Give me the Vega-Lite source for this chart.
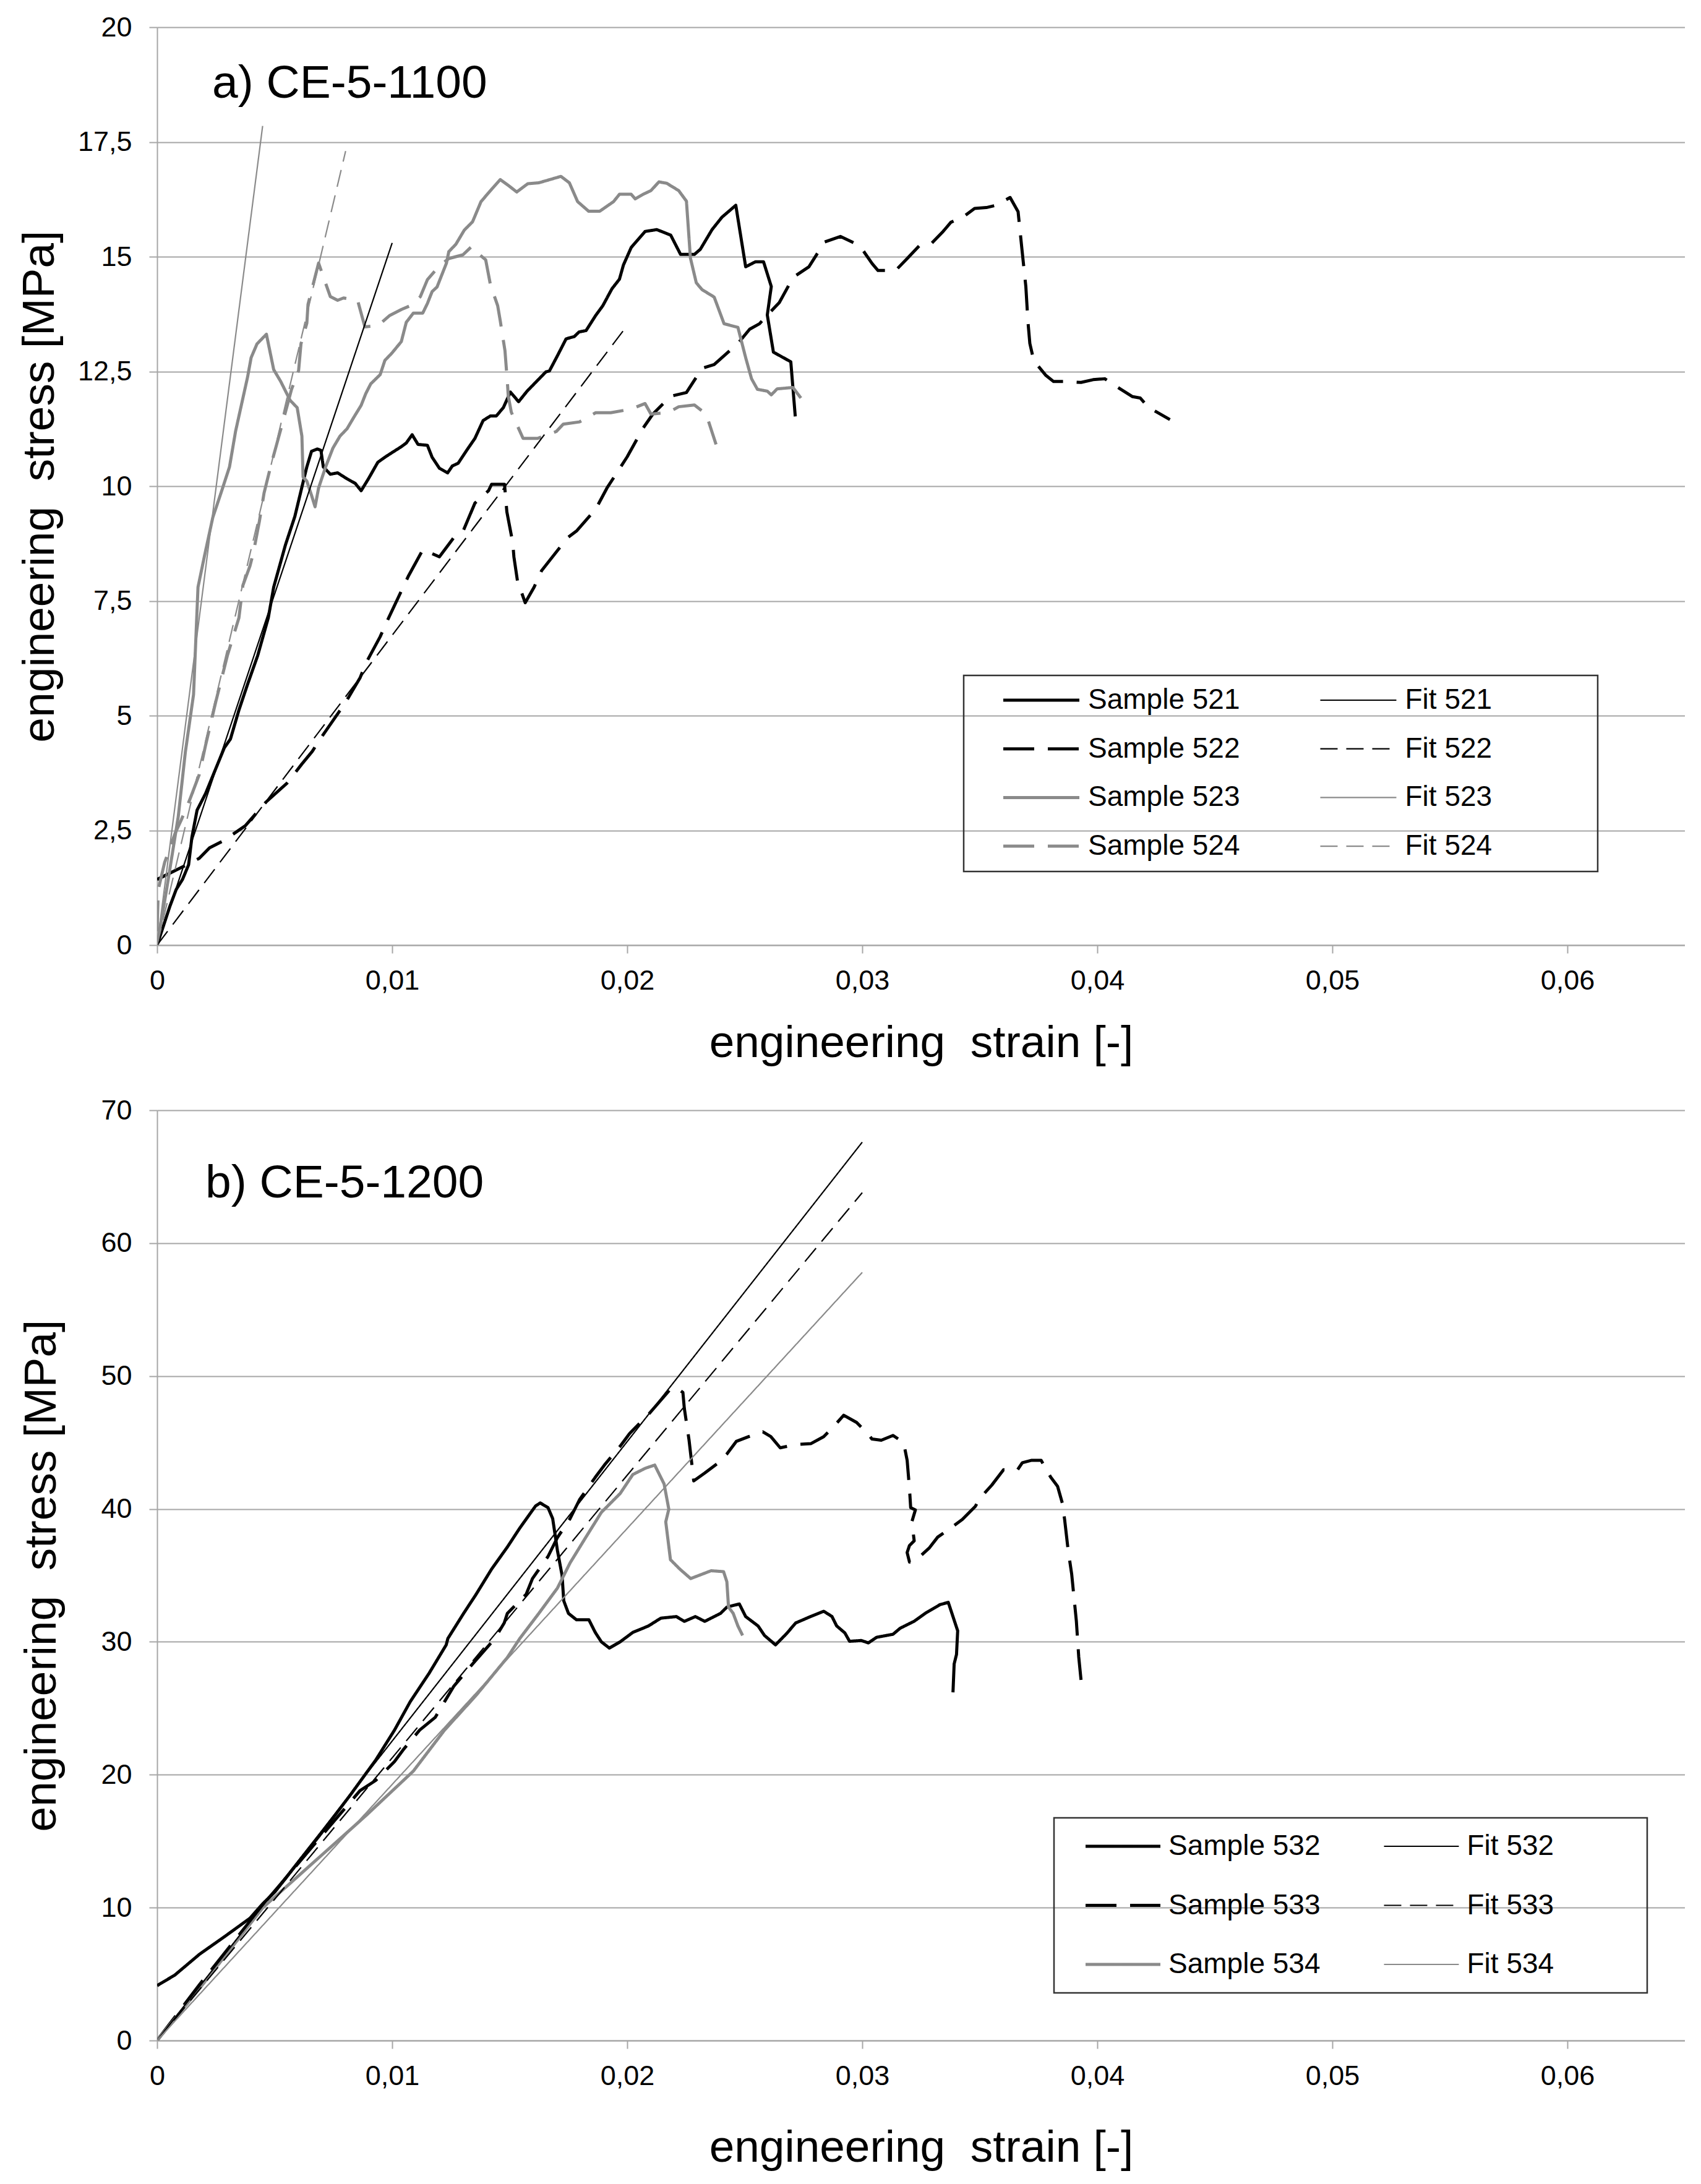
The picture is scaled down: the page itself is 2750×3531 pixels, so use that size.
{
  "$schema": "https://vega.github.io/schema/vega-lite/v6.json",
  "background": "white",
  "padding": {"left": 28, "top": 22, "right": 0, "bottom": 0},
  "spacing": 49,
  "columns": 1,
  "align": "none",
  "resolve": {
    "scale": {"color": "independent", "strokeDash": "independent", "strokeWidth": "independent", "x": "independent", "y": "independent"},
    "legend": {"color": "independent", "strokeDash": "independent", "strokeWidth": "independent"}
  },
  "datasets": {
    "a": [
      {"series": "Sample 521", "x": 0, "y": 0}, {"series": "Sample 521", "x": 0.00054, "y": 0.84}, {"series": "Sample 521", "x": 0.00081, "y": 1.21}, {"series": "Sample 521", "x": 0.00108, "y": 1.43}, {"series": "Sample 521", "x": 0.00134, "y": 1.75}, {"series": "Sample 521", "x": 0.00148, "y": 2.35}, {"series": "Sample 521", "x": 0.0017, "y": 2.94}, {"series": "Sample 521", "x": 0.00206, "y": 3.3}, {"series": "Sample 521", "x": 0.0025, "y": 3.85}, {"series": "Sample 521", "x": 0.00286, "y": 4.3}, {"series": "Sample 521", "x": 0.00312, "y": 4.49}, {"series": "Sample 521", "x": 0.00348, "y": 5.12}, {"series": "Sample 521", "x": 0.00384, "y": 5.67}, {"series": "Sample 521", "x": 0.00428, "y": 6.31}, {"series": "Sample 521", "x": 0.00473, "y": 7.13}, {"series": "Sample 521", "x": 0.00496, "y": 7.8}, {"series": "Sample 521", "x": 0.00546, "y": 8.72}, {"series": "Sample 521", "x": 0.00586, "y": 9.34}, {"series": "Sample 521", "x": 0.00617, "y": 10.0}, {"series": "Sample 521", "x": 0.00637, "y": 10.42}, {"series": "Sample 521", "x": 0.00657, "y": 10.76}, {"series": "Sample 521", "x": 0.00682, "y": 10.81}, {"series": "Sample 521", "x": 0.00697, "y": 10.78}, {"series": "Sample 521", "x": 0.00707, "y": 10.42}, {"series": "Sample 521", "x": 0.00737, "y": 10.26}, {"series": "Sample 521", "x": 0.00768, "y": 10.29}, {"series": "Sample 521", "x": 0.00808, "y": 10.16}, {"series": "Sample 521", "x": 0.00843, "y": 10.06}, {"series": "Sample 521", "x": 0.00868, "y": 9.9}, {"series": "Sample 521", "x": 0.00899, "y": 10.16}, {"series": "Sample 521", "x": 0.00939, "y": 10.52}, {"series": "Sample 521", "x": 0.00969, "y": 10.63}, {"series": "Sample 521", "x": 0.00999, "y": 10.73}, {"series": "Sample 521", "x": 0.01039, "y": 10.86}, {"series": "Sample 521", "x": 0.0106, "y": 10.94}, {"series": "Sample 521", "x": 0.01085, "y": 11.12}, {"series": "Sample 521", "x": 0.0111, "y": 10.91}, {"series": "Sample 521", "x": 0.0115, "y": 10.89}, {"series": "Sample 521", "x": 0.0117, "y": 10.63}, {"series": "Sample 521", "x": 0.01201, "y": 10.39}, {"series": "Sample 521", "x": 0.01236, "y": 10.29}, {"series": "Sample 521", "x": 0.01256, "y": 10.44}, {"series": "Sample 521", "x": 0.01281, "y": 10.5}, {"series": "Sample 521", "x": 0.01317, "y": 10.78}, {"series": "Sample 521", "x": 0.01352, "y": 11.04}, {"series": "Sample 521", "x": 0.01387, "y": 11.43}, {"series": "Sample 521", "x": 0.01418, "y": 11.53}, {"series": "Sample 521", "x": 0.01443, "y": 11.53}, {"series": "Sample 521", "x": 0.01473, "y": 11.71}, {"series": "Sample 521", "x": 0.01503, "y": 12.05}, {"series": "Sample 521", "x": 0.01538, "y": 11.84}, {"series": "Sample 521", "x": 0.01574, "y": 12.07}, {"series": "Sample 521", "x": 0.01614, "y": 12.28}, {"series": "Sample 521", "x": 0.01654, "y": 12.49}, {"series": "Sample 521", "x": 0.01669, "y": 12.51}, {"series": "Sample 521", "x": 0.01704, "y": 12.85}, {"series": "Sample 521", "x": 0.0174, "y": 13.21}, {"series": "Sample 521", "x": 0.01775, "y": 13.26}, {"series": "Sample 521", "x": 0.01795, "y": 13.36}, {"series": "Sample 521", "x": 0.01825, "y": 13.39}, {"series": "Sample 521", "x": 0.01866, "y": 13.72}, {"series": "Sample 521", "x": 0.01896, "y": 13.93}, {"series": "Sample 521", "x": 0.01935, "y": 14.3}, {"series": "Sample 521", "x": 0.01967, "y": 14.51}, {"series": "Sample 521", "x": 0.01984, "y": 14.82}, {"series": "Sample 521", "x": 0.02017, "y": 15.2}, {"series": "Sample 521", "x": 0.02076, "y": 15.55}, {"series": "Sample 521", "x": 0.02126, "y": 15.59}, {"series": "Sample 521", "x": 0.02185, "y": 15.47}, {"series": "Sample 521", "x": 0.02227, "y": 15.05}, {"series": "Sample 521", "x": 0.02286, "y": 15.05}, {"series": "Sample 521", "x": 0.02311, "y": 15.16}, {"series": "Sample 521", "x": 0.02361, "y": 15.59}, {"series": "Sample 521", "x": 0.02403, "y": 15.86}, {"series": "Sample 521", "x": 0.02462, "y": 16.12}, {"series": "Sample 521", "x": 0.02504, "y": 14.78}, {"series": "Sample 521", "x": 0.02546, "y": 14.89}, {"series": "Sample 521", "x": 0.0258, "y": 14.89}, {"series": "Sample 521", "x": 0.02613, "y": 14.35}, {"series": "Sample 521", "x": 0.02596, "y": 13.73}, {"series": "Sample 521", "x": 0.02622, "y": 12.92}, {"series": "Sample 521", "x": 0.02696, "y": 12.71}, {"series": "Sample 521", "x": 0.02715, "y": 11.52},
      {"series": "Sample 522", "x": 0, "y": 1.43}, {"series": "Sample 522", "x": 0.00099, "y": 1.68}, {"series": "Sample 522", "x": 0.00179, "y": 1.89}, {"series": "Sample 522", "x": 0.00223, "y": 2.12}, {"series": "Sample 522", "x": 0.00277, "y": 2.26}, {"series": "Sample 522", "x": 0.0033, "y": 2.44}, {"series": "Sample 522", "x": 0.00375, "y": 2.6}, {"series": "Sample 522", "x": 0.00464, "y": 3.12}, {"series": "Sample 522", "x": 0.00553, "y": 3.53}, {"series": "Sample 522", "x": 0.00615, "y": 3.94}, {"series": "Sample 522", "x": 0.0066, "y": 4.22}, {"series": "Sample 522", "x": 0.00695, "y": 4.5}, {"series": "Sample 522", "x": 0.00775, "y": 5.09}, {"series": "Sample 522", "x": 0.00802, "y": 5.29}, {"series": "Sample 522", "x": 0.00864, "y": 5.83}, {"series": "Sample 522", "x": 0.00891, "y": 6.17}, {"series": "Sample 522", "x": 0.00949, "y": 6.72}, {"series": "Sample 522", "x": 0.00985, "y": 7.13}, {"series": "Sample 522", "x": 0.0107, "y": 8.05}, {"series": "Sample 522", "x": 0.01131, "y": 8.62}, {"series": "Sample 522", "x": 0.01201, "y": 8.46}, {"series": "Sample 522", "x": 0.01261, "y": 8.87}, {"series": "Sample 522", "x": 0.01302, "y": 9.02}, {"series": "Sample 522", "x": 0.01352, "y": 9.63}, {"series": "Sample 522", "x": 0.0141, "y": 9.9}, {"series": "Sample 522", "x": 0.01423, "y": 10.04}, {"series": "Sample 522", "x": 0.01478, "y": 10.04}, {"series": "Sample 522", "x": 0.01488, "y": 9.44}, {"series": "Sample 522", "x": 0.01513, "y": 8.77}, {"series": "Sample 522", "x": 0.01518, "y": 8.46}, {"series": "Sample 522", "x": 0.01533, "y": 7.94}, {"series": "Sample 522", "x": 0.01566, "y": 7.46}, {"series": "Sample 522", "x": 0.01604, "y": 7.8}, {"series": "Sample 522", "x": 0.01636, "y": 8.16}, {"series": "Sample 522", "x": 0.01745, "y": 8.87}, {"series": "Sample 522", "x": 0.01786, "y": 9.03}, {"series": "Sample 522", "x": 0.01866, "y": 9.5}, {"series": "Sample 522", "x": 0.01914, "y": 9.96}, {"series": "Sample 522", "x": 0.02, "y": 10.64}, {"series": "Sample 522", "x": 0.02067, "y": 11.26}, {"series": "Sample 522", "x": 0.02109, "y": 11.57}, {"series": "Sample 522", "x": 0.02185, "y": 11.96}, {"series": "Sample 522", "x": 0.02252, "y": 12.04}, {"series": "Sample 522", "x": 0.02319, "y": 12.57}, {"series": "Sample 522", "x": 0.0237, "y": 12.65}, {"series": "Sample 522", "x": 0.02471, "y": 13.11}, {"series": "Sample 522", "x": 0.02521, "y": 13.42}, {"series": "Sample 522", "x": 0.02563, "y": 13.54}, {"series": "Sample 522", "x": 0.02597, "y": 13.73}, {"series": "Sample 522", "x": 0.02647, "y": 14.0}, {"series": "Sample 522", "x": 0.02706, "y": 14.55}, {"series": "Sample 522", "x": 0.02773, "y": 14.78}, {"series": "Sample 522", "x": 0.0284, "y": 15.32}, {"series": "Sample 522", "x": 0.02907, "y": 15.44}, {"series": "Sample 522", "x": 0.02974, "y": 15.28}, {"series": "Sample 522", "x": 0.03, "y": 15.16}, {"series": "Sample 522", "x": 0.03042, "y": 14.85}, {"series": "Sample 522", "x": 0.03067, "y": 14.7}, {"series": "Sample 522", "x": 0.03142, "y": 14.7}, {"series": "Sample 522", "x": 0.03193, "y": 14.97}, {"series": "Sample 522", "x": 0.03243, "y": 15.24}, {"series": "Sample 522", "x": 0.03293, "y": 15.28}, {"series": "Sample 522", "x": 0.03344, "y": 15.55}, {"series": "Sample 522", "x": 0.03377, "y": 15.75}, {"series": "Sample 522", "x": 0.03428, "y": 15.86}, {"series": "Sample 522", "x": 0.03478, "y": 16.05}, {"series": "Sample 522", "x": 0.03528, "y": 16.07}, {"series": "Sample 522", "x": 0.0357, "y": 16.12}, {"series": "Sample 522", "x": 0.03629, "y": 16.29}, {"series": "Sample 522", "x": 0.03663, "y": 15.98}, {"series": "Sample 522", "x": 0.0368, "y": 15.13}, {"series": "Sample 522", "x": 0.03696, "y": 14.35}, {"series": "Sample 522", "x": 0.03705, "y": 13.58}, {"series": "Sample 522", "x": 0.03713, "y": 13.11}, {"series": "Sample 522", "x": 0.0373, "y": 12.73}, {"series": "Sample 522", "x": 0.0378, "y": 12.42}, {"series": "Sample 522", "x": 0.03814, "y": 12.28}, {"series": "Sample 522", "x": 0.03864, "y": 12.28}, {"series": "Sample 522", "x": 0.03931, "y": 12.26}, {"series": "Sample 522", "x": 0.03982, "y": 12.32}, {"series": "Sample 522", "x": 0.04032, "y": 12.34}, {"series": "Sample 522", "x": 0.041, "y": 12.11}, {"series": "Sample 522", "x": 0.0415, "y": 11.95}, {"series": "Sample 522", "x": 0.04183, "y": 11.92}, {"series": "Sample 522", "x": 0.04217, "y": 11.72}, {"series": "Sample 522", "x": 0.04309, "y": 11.45},
      {"series": "Sample 523", "x": 0, "y": 0}, {"series": "Sample 523", "x": 0.0004, "y": 1.2}, {"series": "Sample 523", "x": 0.0009, "y": 2.8}, {"series": "Sample 523", "x": 0.0012, "y": 4.2}, {"series": "Sample 523", "x": 0.00155, "y": 5.46}, {"series": "Sample 523", "x": 0.00174, "y": 7.8}, {"series": "Sample 523", "x": 0.00202, "y": 8.49}, {"series": "Sample 523", "x": 0.00237, "y": 9.32}, {"series": "Sample 523", "x": 0.00273, "y": 9.87}, {"series": "Sample 523", "x": 0.00308, "y": 10.42}, {"series": "Sample 523", "x": 0.00334, "y": 11.2}, {"series": "Sample 523", "x": 0.00385, "y": 12.38}, {"series": "Sample 523", "x": 0.004, "y": 12.8}, {"series": "Sample 523", "x": 0.00425, "y": 13.1}, {"series": "Sample 523", "x": 0.00465, "y": 13.31}, {"series": "Sample 523", "x": 0.00496, "y": 12.54}, {"series": "Sample 523", "x": 0.00526, "y": 12.28}, {"series": "Sample 523", "x": 0.00566, "y": 11.87}, {"series": "Sample 523", "x": 0.00596, "y": 11.71}, {"series": "Sample 523", "x": 0.00616, "y": 11.09}, {"series": "Sample 523", "x": 0.00621, "y": 10.2}, {"series": "Sample 523", "x": 0.00637, "y": 10.11}, {"series": "Sample 523", "x": 0.00657, "y": 9.8}, {"series": "Sample 523", "x": 0.00672, "y": 9.55}, {"series": "Sample 523", "x": 0.00687, "y": 9.96}, {"series": "Sample 523", "x": 0.00717, "y": 10.42}, {"series": "Sample 523", "x": 0.00748, "y": 10.83}, {"series": "Sample 523", "x": 0.00778, "y": 11.09}, {"series": "Sample 523", "x": 0.00808, "y": 11.25}, {"series": "Sample 523", "x": 0.00838, "y": 11.51}, {"series": "Sample 523", "x": 0.00868, "y": 11.76}, {"series": "Sample 523", "x": 0.00888, "y": 12.02}, {"series": "Sample 523", "x": 0.00909, "y": 12.23}, {"series": "Sample 523", "x": 0.00949, "y": 12.43}, {"series": "Sample 523", "x": 0.00969, "y": 12.74}, {"series": "Sample 523", "x": 0.00999, "y": 12.9}, {"series": "Sample 523", "x": 0.01039, "y": 13.15}, {"series": "Sample 523", "x": 0.0106, "y": 13.57}, {"series": "Sample 523", "x": 0.0109, "y": 13.77}, {"series": "Sample 523", "x": 0.0113, "y": 13.77}, {"series": "Sample 523", "x": 0.0115, "y": 13.98}, {"series": "Sample 523", "x": 0.0117, "y": 14.24}, {"series": "Sample 523", "x": 0.01191, "y": 14.34}, {"series": "Sample 523", "x": 0.01211, "y": 14.6}, {"series": "Sample 523", "x": 0.01231, "y": 14.86}, {"series": "Sample 523", "x": 0.01241, "y": 15.11}, {"series": "Sample 523", "x": 0.01271, "y": 15.27}, {"series": "Sample 523", "x": 0.01307, "y": 15.58}, {"series": "Sample 523", "x": 0.01342, "y": 15.76}, {"series": "Sample 523", "x": 0.01378, "y": 16.2}, {"series": "Sample 523", "x": 0.01425, "y": 16.48}, {"series": "Sample 523", "x": 0.0146, "y": 16.68}, {"series": "Sample 523", "x": 0.01495, "y": 16.55}, {"series": "Sample 523", "x": 0.0153, "y": 16.41}, {"series": "Sample 523", "x": 0.01577, "y": 16.59}, {"series": "Sample 523", "x": 0.01624, "y": 16.61}, {"series": "Sample 523", "x": 0.01671, "y": 16.68}, {"series": "Sample 523", "x": 0.01718, "y": 16.75}, {"series": "Sample 523", "x": 0.01754, "y": 16.61}, {"series": "Sample 523", "x": 0.01789, "y": 16.2}, {"series": "Sample 523", "x": 0.01836, "y": 15.99}, {"series": "Sample 523", "x": 0.01883, "y": 15.99}, {"series": "Sample 523", "x": 0.01942, "y": 16.2}, {"series": "Sample 523", "x": 0.01967, "y": 16.36}, {"series": "Sample 523", "x": 0.02017, "y": 16.36}, {"series": "Sample 523", "x": 0.02034, "y": 16.26}, {"series": "Sample 523", "x": 0.02068, "y": 16.36}, {"series": "Sample 523", "x": 0.02101, "y": 16.44}, {"series": "Sample 523", "x": 0.02135, "y": 16.63}, {"series": "Sample 523", "x": 0.02168, "y": 16.6}, {"series": "Sample 523", "x": 0.02219, "y": 16.44}, {"series": "Sample 523", "x": 0.02252, "y": 16.21}, {"series": "Sample 523", "x": 0.02269, "y": 14.97}, {"series": "Sample 523", "x": 0.02294, "y": 14.43}, {"series": "Sample 523", "x": 0.02319, "y": 14.28}, {"series": "Sample 523", "x": 0.0237, "y": 14.12}, {"series": "Sample 523", "x": 0.02412, "y": 13.54}, {"series": "Sample 523", "x": 0.02471, "y": 13.46}, {"series": "Sample 523", "x": 0.02504, "y": 12.8}, {"series": "Sample 523", "x": 0.02529, "y": 12.34}, {"series": "Sample 523", "x": 0.02554, "y": 12.11}, {"series": "Sample 523", "x": 0.02596, "y": 12.07}, {"series": "Sample 523", "x": 0.02613, "y": 11.99}, {"series": "Sample 523", "x": 0.02638, "y": 12.12}, {"series": "Sample 523", "x": 0.02705, "y": 12.15}, {"series": "Sample 523", "x": 0.02739, "y": 11.92},
      {"series": "Sample 524", "x": 0, "y": 0.3}, {"series": "Sample 524", "x": 0.00005, "y": 1.21}, {"series": "Sample 524", "x": 0.00032, "y": 1.8}, {"series": "Sample 524", "x": 0.00077, "y": 2.44}, {"series": "Sample 524", "x": 0.00103, "y": 2.73}, {"series": "Sample 524", "x": 0.00139, "y": 3.17}, {"series": "Sample 524", "x": 0.00179, "y": 3.71}, {"series": "Sample 524", "x": 0.00206, "y": 4.35}, {"series": "Sample 524", "x": 0.0025, "y": 5.31}, {"series": "Sample 524", "x": 0.00299, "y": 6.31}, {"series": "Sample 524", "x": 0.00348, "y": 7.13}, {"series": "Sample 524", "x": 0.00365, "y": 7.84}, {"series": "Sample 524", "x": 0.00395, "y": 8.26}, {"series": "Sample 524", "x": 0.0041, "y": 8.56}, {"series": "Sample 524", "x": 0.00435, "y": 9.23}, {"series": "Sample 524", "x": 0.00455, "y": 9.85}, {"series": "Sample 524", "x": 0.00485, "y": 10.47}, {"series": "Sample 524", "x": 0.00506, "y": 10.86}, {"series": "Sample 524", "x": 0.0054, "y": 11.5}, {"series": "Sample 524", "x": 0.00572, "y": 12.11}, {"series": "Sample 524", "x": 0.00602, "y": 12.52}, {"series": "Sample 524", "x": 0.00612, "y": 13.1}, {"series": "Sample 524", "x": 0.00637, "y": 13.55}, {"series": "Sample 524", "x": 0.00642, "y": 13.96}, {"series": "Sample 524", "x": 0.00687, "y": 14.86}, {"series": "Sample 524", "x": 0.00717, "y": 14.42}, {"series": "Sample 524", "x": 0.00737, "y": 14.13}, {"series": "Sample 524", "x": 0.00768, "y": 14.05}, {"series": "Sample 524", "x": 0.00793, "y": 14.1}, {"series": "Sample 524", "x": 0.00853, "y": 14.05}, {"series": "Sample 524", "x": 0.00884, "y": 13.47}, {"series": "Sample 524", "x": 0.0094, "y": 13.5}, {"series": "Sample 524", "x": 0.0099, "y": 13.72}, {"series": "Sample 524", "x": 0.0104, "y": 13.85}, {"series": "Sample 524", "x": 0.01085, "y": 13.95}, {"series": "Sample 524", "x": 0.0112, "y": 14.13}, {"series": "Sample 524", "x": 0.0115, "y": 14.5}, {"series": "Sample 524", "x": 0.01197, "y": 14.78}, {"series": "Sample 524", "x": 0.01241, "y": 14.96}, {"series": "Sample 524", "x": 0.01301, "y": 15.04}, {"series": "Sample 524", "x": 0.01338, "y": 15.22}, {"series": "Sample 524", "x": 0.01368, "y": 15.06}, {"series": "Sample 524", "x": 0.01398, "y": 14.93}, {"series": "Sample 524", "x": 0.01418, "y": 14.39}, {"series": "Sample 524", "x": 0.01449, "y": 13.93}, {"series": "Sample 524", "x": 0.0146, "y": 13.6}, {"series": "Sample 524", "x": 0.0148, "y": 12.95}, {"series": "Sample 524", "x": 0.0149, "y": 12.28}, {"series": "Sample 524", "x": 0.01494, "y": 11.96}, {"series": "Sample 524", "x": 0.01507, "y": 11.61}, {"series": "Sample 524", "x": 0.01557, "y": 11.04}, {"series": "Sample 524", "x": 0.01618, "y": 11.04}, {"series": "Sample 524", "x": 0.01698, "y": 11.19}, {"series": "Sample 524", "x": 0.01728, "y": 11.35}, {"series": "Sample 524", "x": 0.01797, "y": 11.4}, {"series": "Sample 524", "x": 0.01866, "y": 11.6}, {"series": "Sample 524", "x": 0.0193, "y": 11.6}, {"series": "Sample 524", "x": 0.02017, "y": 11.68}, {"series": "Sample 524", "x": 0.02076, "y": 11.8}, {"series": "Sample 524", "x": 0.02101, "y": 11.57}, {"series": "Sample 524", "x": 0.02177, "y": 11.61}, {"series": "Sample 524", "x": 0.02219, "y": 11.73}, {"series": "Sample 524", "x": 0.02286, "y": 11.77}, {"series": "Sample 524", "x": 0.02336, "y": 11.57}, {"series": "Sample 524", "x": 0.02378, "y": 10.91},
      {"series": "Fit 521", "x": 0, "y": 0}, {"series": "Fit 521", "x": 0.01, "y": 15.3},
      {"series": "Fit 522", "x": 0, "y": 0}, {"series": "Fit 522", "x": 0.02, "y": 13.5},
      {"series": "Fit 523", "x": 0, "y": 0}, {"series": "Fit 523", "x": 0.00449, "y": 17.85},
      {"series": "Fit 524", "x": 0, "y": 0}, {"series": "Fit 524", "x": 0.00802, "y": 17.3}
    ],
    "b": [
      {"series": "Sample 532", "x": 0, "y": 4.13}, {"series": "Sample 532", "x": 0.00075, "y": 4.92}, {"series": "Sample 532", "x": 0.00181, "y": 6.5}, {"series": "Sample 532", "x": 0.00288, "y": 7.83}, {"series": "Sample 532", "x": 0.00395, "y": 9.2}, {"series": "Sample 532", "x": 0.0045, "y": 10.3}, {"series": "Sample 532", "x": 0.00502, "y": 11.2}, {"series": "Sample 532", "x": 0.00609, "y": 13.6}, {"series": "Sample 532", "x": 0.0069, "y": 15.4}, {"series": "Sample 532", "x": 0.00823, "y": 18.5}, {"series": "Sample 532", "x": 0.0093, "y": 21.1}, {"series": "Sample 532", "x": 0.0101, "y": 23.36}, {"series": "Sample 532", "x": 0.01077, "y": 25.5}, {"series": "Sample 532", "x": 0.01157, "y": 27.63}, {"series": "Sample 532", "x": 0.0123, "y": 29.77}, {"series": "Sample 532", "x": 0.01237, "y": 30.25}, {"series": "Sample 532", "x": 0.01304, "y": 32.14}, {"series": "Sample 532", "x": 0.01357, "y": 33.57}, {"series": "Sample 532", "x": 0.01423, "y": 35.47}, {"series": "Sample 532", "x": 0.0149, "y": 37.13}, {"series": "Sample 532", "x": 0.01543, "y": 38.56}, {"series": "Sample 532", "x": 0.0161, "y": 40.22}, {"series": "Sample 532", "x": 0.0163, "y": 40.45}, {"series": "Sample 532", "x": 0.01663, "y": 40.1}, {"series": "Sample 532", "x": 0.01683, "y": 39.27}, {"series": "Sample 532", "x": 0.01703, "y": 36.89}, {"series": "Sample 532", "x": 0.01723, "y": 34.99}, {"series": "Sample 532", "x": 0.0173, "y": 33.09}, {"series": "Sample 532", "x": 0.0175, "y": 32.14}, {"series": "Sample 532", "x": 0.01784, "y": 31.66}, {"series": "Sample 532", "x": 0.01837, "y": 31.66}, {"series": "Sample 532", "x": 0.01864, "y": 30.71}, {"series": "Sample 532", "x": 0.0189, "y": 30.0}, {"series": "Sample 532", "x": 0.01924, "y": 29.53}, {"series": "Sample 532", "x": 0.0197, "y": 30.0}, {"series": "Sample 532", "x": 0.02024, "y": 30.71}, {"series": "Sample 532", "x": 0.0209, "y": 31.19}, {"series": "Sample 532", "x": 0.02143, "y": 31.78}, {"series": "Sample 532", "x": 0.02209, "y": 31.9}, {"series": "Sample 532", "x": 0.02243, "y": 31.54}, {"series": "Sample 532", "x": 0.0229, "y": 31.9}, {"series": "Sample 532", "x": 0.0233, "y": 31.54}, {"series": "Sample 532", "x": 0.02397, "y": 32.14}, {"series": "Sample 532", "x": 0.02424, "y": 32.61}, {"series": "Sample 532", "x": 0.02477, "y": 32.85}, {"series": "Sample 532", "x": 0.02504, "y": 31.9}, {"series": "Sample 532", "x": 0.02557, "y": 31.19}, {"series": "Sample 532", "x": 0.02584, "y": 30.48}, {"series": "Sample 532", "x": 0.02631, "y": 29.77}, {"series": "Sample 532", "x": 0.02677, "y": 30.6}, {"series": "Sample 532", "x": 0.02717, "y": 31.42}, {"series": "Sample 532", "x": 0.02781, "y": 31.91}, {"series": "Sample 532", "x": 0.02836, "y": 32.3}, {"series": "Sample 532", "x": 0.02871, "y": 31.91}, {"series": "Sample 532", "x": 0.02891, "y": 31.2}, {"series": "Sample 532", "x": 0.02926, "y": 30.67}, {"series": "Sample 532", "x": 0.02946, "y": 30.04}, {"series": "Sample 532", "x": 0.02996, "y": 30.1}, {"series": "Sample 532", "x": 0.03026, "y": 29.92}, {"series": "Sample 532", "x": 0.03061, "y": 30.34}, {"series": "Sample 532", "x": 0.03131, "y": 30.57}, {"series": "Sample 532", "x": 0.03161, "y": 31.02}, {"series": "Sample 532", "x": 0.03221, "y": 31.55}, {"series": "Sample 532", "x": 0.03271, "y": 32.18}, {"series": "Sample 532", "x": 0.03331, "y": 32.8}, {"series": "Sample 532", "x": 0.03366, "y": 32.97}, {"series": "Sample 532", "x": 0.03406, "y": 30.83}, {"series": "Sample 532", "x": 0.03401, "y": 29.05}, {"series": "Sample 532", "x": 0.03391, "y": 28.34}, {"series": "Sample 532", "x": 0.03386, "y": 26.2},
      {"series": "Sample 533", "x": 0, "y": 0}, {"series": "Sample 533", "x": 0.0018, "y": 4.2}, {"series": "Sample 533", "x": 0.0045, "y": 10.2}, {"series": "Sample 533", "x": 0.0069, "y": 15.2}, {"series": "Sample 533", "x": 0.00863, "y": 18.8}, {"series": "Sample 533", "x": 0.0093, "y": 19.57}, {"series": "Sample 533", "x": 0.0101, "y": 20.99}, {"series": "Sample 533", "x": 0.0105, "y": 21.94}, {"series": "Sample 533", "x": 0.01117, "y": 23.36}, {"series": "Sample 533", "x": 0.01183, "y": 24.31}, {"series": "Sample 533", "x": 0.01223, "y": 25.5}, {"series": "Sample 533", "x": 0.01263, "y": 26.68}, {"series": "Sample 533", "x": 0.01343, "y": 28.35}, {"series": "Sample 533", "x": 0.01437, "y": 30.25}, {"series": "Sample 533", "x": 0.01477, "y": 31.43}, {"series": "Sample 533", "x": 0.0149, "y": 32.14}, {"series": "Sample 533", "x": 0.0157, "y": 33.57}, {"series": "Sample 533", "x": 0.01597, "y": 34.76}, {"series": "Sample 533", "x": 0.01663, "y": 36.42}, {"series": "Sample 533", "x": 0.01703, "y": 37.84}, {"series": "Sample 533", "x": 0.01757, "y": 39.27}, {"series": "Sample 533", "x": 0.01797, "y": 40.69}, {"series": "Sample 533", "x": 0.01863, "y": 42.35}, {"series": "Sample 533", "x": 0.01903, "y": 43.3}, {"series": "Sample 533", "x": 0.0197, "y": 44.72}, {"series": "Sample 533", "x": 0.0201, "y": 45.67}, {"series": "Sample 533", "x": 0.0209, "y": 47.1}, {"series": "Sample 533", "x": 0.02183, "y": 49.0}, {"series": "Sample 533", "x": 0.0221, "y": 49.12}, {"series": "Sample 533", "x": 0.02237, "y": 48.76}, {"series": "Sample 533", "x": 0.02243, "y": 47.57}, {"series": "Sample 533", "x": 0.02263, "y": 45.2}, {"series": "Sample 533", "x": 0.02277, "y": 43.06}, {"series": "Sample 533", "x": 0.02283, "y": 42.11}, {"series": "Sample 533", "x": 0.0233, "y": 42.7}, {"series": "Sample 533", "x": 0.02384, "y": 43.42}, {"series": "Sample 533", "x": 0.02424, "y": 44.13}, {"series": "Sample 533", "x": 0.02464, "y": 45.08}, {"series": "Sample 533", "x": 0.02517, "y": 45.44}, {"series": "Sample 533", "x": 0.02577, "y": 45.8}, {"series": "Sample 533", "x": 0.02611, "y": 45.44}, {"series": "Sample 533", "x": 0.02651, "y": 44.6}, {"series": "Sample 533", "x": 0.02717, "y": 44.84}, {"series": "Sample 533", "x": 0.02781, "y": 44.91}, {"series": "Sample 533", "x": 0.02836, "y": 45.44}, {"series": "Sample 533", "x": 0.02876, "y": 46.15}, {"series": "Sample 533", "x": 0.02921, "y": 47.05}, {"series": "Sample 533", "x": 0.02976, "y": 46.51}, {"series": "Sample 533", "x": 0.03026, "y": 45.62}, {"series": "Sample 533", "x": 0.03041, "y": 45.26}, {"series": "Sample 533", "x": 0.03081, "y": 45.17}, {"series": "Sample 533", "x": 0.03131, "y": 45.53}, {"series": "Sample 533", "x": 0.03176, "y": 44.99}, {"series": "Sample 533", "x": 0.03191, "y": 43.66}, {"series": "Sample 533", "x": 0.03196, "y": 42.59}, {"series": "Sample 533", "x": 0.03201, "y": 41.52}, {"series": "Sample 533", "x": 0.03206, "y": 40.1}, {"series": "Sample 533", "x": 0.03226, "y": 39.92}, {"series": "Sample 533", "x": 0.03211, "y": 39.03}, {"series": "Sample 533", "x": 0.03221, "y": 37.6}, {"series": "Sample 533", "x": 0.03201, "y": 37.25}, {"series": "Sample 533", "x": 0.03191, "y": 36.72}, {"series": "Sample 533", "x": 0.03201, "y": 36.0}, {"series": "Sample 533", "x": 0.03236, "y": 36.27}, {"series": "Sample 533", "x": 0.03286, "y": 37.08}, {"series": "Sample 533", "x": 0.03321, "y": 37.88}, {"series": "Sample 533", "x": 0.03371, "y": 38.5}, {"series": "Sample 533", "x": 0.03426, "y": 39.21}, {"series": "Sample 533", "x": 0.03481, "y": 40.19}, {"series": "Sample 533", "x": 0.03501, "y": 40.81}, {"series": "Sample 533", "x": 0.03551, "y": 41.79}, {"series": "Sample 533", "x": 0.03601, "y": 42.95}, {"series": "Sample 533", "x": 0.03631, "y": 42.86}, {"series": "Sample 533", "x": 0.03661, "y": 42.95}, {"series": "Sample 533", "x": 0.03681, "y": 43.48}, {"series": "Sample 533", "x": 0.03721, "y": 43.66}, {"series": "Sample 533", "x": 0.03761, "y": 43.66}, {"series": "Sample 533", "x": 0.03801, "y": 42.41}, {"series": "Sample 533", "x": 0.03831, "y": 41.7}, {"series": "Sample 533", "x": 0.03851, "y": 40.45}, {"series": "Sample 533", "x": 0.03861, "y": 39.2}, {"series": "Sample 533", "x": 0.03876, "y": 36.89}, {"series": "Sample 533", "x": 0.03891, "y": 35.1}, {"series": "Sample 533", "x": 0.03901, "y": 33.32}, {"series": "Sample 533", "x": 0.03911, "y": 31.54}, {"series": "Sample 533", "x": 0.03921, "y": 28.87}, {"series": "Sample 533", "x": 0.03931, "y": 27.09}, {"series": "Sample 533", "x": 0.03956, "y": 27.36},
      {"series": "Sample 534", "x": 0, "y": 0}, {"series": "Sample 534", "x": 0.0018, "y": 3.9}, {"series": "Sample 534", "x": 0.0045, "y": 10.0}, {"series": "Sample 534", "x": 0.0077, "y": 15.05}, {"series": "Sample 534", "x": 0.0089, "y": 16.95}, {"series": "Sample 534", "x": 0.0109, "y": 20.27}, {"series": "Sample 534", "x": 0.01223, "y": 23.36}, {"series": "Sample 534", "x": 0.01357, "y": 25.97}, {"series": "Sample 534", "x": 0.0149, "y": 28.82}, {"series": "Sample 534", "x": 0.01543, "y": 30.25}, {"series": "Sample 534", "x": 0.01624, "y": 32.14}, {"series": "Sample 534", "x": 0.01703, "y": 34.04}, {"series": "Sample 534", "x": 0.01757, "y": 35.94}, {"series": "Sample 534", "x": 0.01823, "y": 37.84}, {"series": "Sample 534", "x": 0.0189, "y": 39.74}, {"series": "Sample 534", "x": 0.0197, "y": 41.16}, {"series": "Sample 534", "x": 0.02024, "y": 42.59}, {"series": "Sample 534", "x": 0.02077, "y": 43.06}, {"series": "Sample 534", "x": 0.02117, "y": 43.3}, {"series": "Sample 534", "x": 0.02157, "y": 41.88}, {"series": "Sample 534", "x": 0.02177, "y": 39.98}, {"series": "Sample 534", "x": 0.02164, "y": 39.03}, {"series": "Sample 534", "x": 0.02184, "y": 36.18}, {"series": "Sample 534", "x": 0.02224, "y": 35.47}, {"series": "Sample 534", "x": 0.0227, "y": 34.76}, {"series": "Sample 534", "x": 0.02304, "y": 34.99}, {"series": "Sample 534", "x": 0.02357, "y": 35.35}, {"series": "Sample 534", "x": 0.0241, "y": 35.28}, {"series": "Sample 534", "x": 0.02424, "y": 34.52}, {"series": "Sample 534", "x": 0.02431, "y": 32.62}, {"series": "Sample 534", "x": 0.02451, "y": 32.14}, {"series": "Sample 534", "x": 0.02471, "y": 31.19}, {"series": "Sample 534", "x": 0.02491, "y": 30.48},
      {"series": "Fit 532", "x": 0, "y": 0}, {"series": "Fit 532", "x": 0.03, "y": 67.6},
      {"series": "Fit 533", "x": 0, "y": 0}, {"series": "Fit 533", "x": 0.03, "y": 63.8},
      {"series": "Fit 534", "x": 0, "y": 0}, {"series": "Fit 534", "x": 0.03, "y": 57.8}
    ]
  },
  "concat": [
    {
      "width": 2470,
      "height": 1484,
      "data": {"name": "a"},
      "title": {"text": "a) CE-5-1100", "anchor": "start", "frame": "group", "orient": "top", "offset": 0, "baseline": "alphabetic", "dx": 89, "dy": 211, "fontSize": 75, "fontWeight": "normal", "font": "Liberation Sans", "color": "black"},
      "mark": {"type": "line", "strokeCap": "butt", "strokeJoin": "round", "clip": true},
      "encoding": {
        "x": {"field": "x", "type": "quantitative", "title": "engineering\u00a0 strain [-]", "scale": {"domain": [0, 0.065], "nice": false}, "axis": {"values": [0, 0.01, 0.02, 0.03, 0.04, 0.05, 0.06], "format": ".2~f", "labelExpr": "replace(datum.label, '.', ',')", "grid": false, "labelPadding": 22.7, "titlePadding": 41.4}},
        "y": {"field": "y", "type": "quantitative", "title": "engineering\u00a0 stress [MPa]", "scale": {"domain": [0, 20], "nice": false}, "axis": {"values": [0, 2.5, 5, 7.5, 10, 12.5, 15, 17.5, 20], "format": ".1~f", "labelExpr": "replace(datum.label, '.', ',')", "grid": true, "labelPadding": 28, "titlePadding": 24.4}},
        "color": {"field": "series", "type": "nominal",
          "scale": {"domain": ["Sample 521", "Sample 522", "Sample 523", "Sample 524", "Fit 521", "Fit 522", "Fit 523", "Fit 524"], "range": ["#000000", "#000000", "#8a8a8a", "#8a8a8a", "#000000", "#000000", "#8a8a8a", "#8a8a8a"]},
          "legend": {"title": null, "orient": "none", "legendX": 1304, "legendY": 1048, "columns": 2, "gridAlign": "each", "columnPadding": 80.5, "rowPadding": 32.7, "padding": 17, "symbolType": "M-1.025,0M1.2,0H7.35", "symbolSize": 1600, "labelOffset": 138, "labelExpr": "indexof(datum.label, 'Fit') === 0 ? datum.label + '\u00a0\u00a0\u00a0\u00a0\u00a0\u00a0\u00a0\u00a0\u00a0\u00a0\u00a0\u00a0\u200b' : datum.label"}},
        "strokeDash": {"field": "series", "type": "nominal",
          "scale": {"domain": ["Sample 521", "Sample 522", "Sample 523", "Sample 524", "Fit 521", "Fit 522", "Fit 523", "Fit 524"], "range": [[1, 0], [50, 22], [1, 0], [50, 22], [1, 0], [28, 14], [1, 0], [28, 14]]},
          "legend": {"title": null, "orient": "none", "legendX": 1304, "legendY": 1048, "columns": 2, "gridAlign": "each", "columnPadding": 80.5, "rowPadding": 32.7, "padding": 17, "symbolType": "M-1.025,0M1.2,0H7.35", "symbolSize": 1600, "labelOffset": 138, "labelExpr": "indexof(datum.label, 'Fit') === 0 ? datum.label + '\u00a0\u00a0\u00a0\u00a0\u00a0\u00a0\u00a0\u00a0\u00a0\u00a0\u00a0\u00a0\u200b' : datum.label"}},
        "strokeWidth": {"field": "series", "type": "nominal",
          "scale": {"type": "ordinal", "domain": ["Sample 521", "Sample 522", "Sample 523", "Sample 524", "Fit 521", "Fit 522", "Fit 523", "Fit 524"], "range": [5, 5, 5, 5, 2.2, 2.2, 2.2, 2.2]},
          "legend": {"title": null, "orient": "none", "legendX": 1304, "legendY": 1048, "columns": 2, "gridAlign": "each", "columnPadding": 80.5, "rowPadding": 32.7, "padding": 17, "symbolType": "M-1.025,0M1.2,0H7.35", "symbolSize": 1600, "labelOffset": 138, "labelExpr": "indexof(datum.label, 'Fit') === 0 ? datum.label + '\u00a0\u00a0\u00a0\u00a0\u00a0\u00a0\u00a0\u00a0\u00a0\u00a0\u00a0\u00a0\u200b' : datum.label"}},
        "order": {"value": null}
      }
    },
    {
      "width": 2470,
      "height": 1504,
      "data": {"name": "b"},
      "title": {"text": "b) CE-5-1200", "anchor": "start", "frame": "group", "orient": "top", "offset": 0, "baseline": "alphabetic", "dx": 78, "dy": 238, "fontSize": 75, "fontWeight": "normal", "font": "Liberation Sans", "color": "black"},
      "mark": {"type": "line", "strokeCap": "butt", "strokeJoin": "round", "clip": true},
      "encoding": {
        "x": {"field": "x", "type": "quantitative", "title": "engineering\u00a0 strain [-]", "scale": {"domain": [0, 0.065], "nice": false}, "axis": {"values": [0, 0.01, 0.02, 0.03, 0.04, 0.05, 0.06], "format": ".2~f", "labelExpr": "replace(datum.label, '.', ',')", "grid": false, "labelPadding": 22.7, "titlePadding": 57}},
        "y": {"field": "y", "type": "quantitative", "title": "engineering\u00a0 stress [MPa]", "scale": {"domain": [0, 70], "nice": false}, "axis": {"values": [0, 10, 20, 30, 40, 50, 60, 70], "format": "d", "grid": true, "labelPadding": 28, "titlePadding": 58}},
        "color": {"field": "series", "type": "nominal",
          "scale": {"domain": ["Sample 532", "Sample 533", "Sample 534", "Fit 532", "Fit 533", "Fit 534"], "range": ["#000000", "#000000", "#8a8a8a", "#000000", "#000000", "#8a8a8a"]},
          "legend": {"title": null, "orient": "none", "legendX": 1450, "legendY": 1144, "columns": 2, "gridAlign": "each", "columnPadding": 72.5, "rowPadding": 49.5, "padding": 23, "symbolType": "M-1.025,0M0.25,0H6.3", "symbolSize": 1600, "labelOffset": 116, "labelExpr": "indexof(datum.label, 'Fit') === 0 ? datum.label + '\u00a0\u00a0\u00a0\u00a0\u00a0\u00a0\u00a0\u00a0\u00a0\u00a0\u200b' : datum.label"}},
        "strokeDash": {"field": "series", "type": "nominal",
          "scale": {"domain": ["Sample 532", "Sample 533", "Sample 534", "Fit 532", "Fit 533", "Fit 534"], "range": [[1, 0], [50, 22], [1, 0], [1, 0], [28, 14], [1, 0]]},
          "legend": {"title": null, "orient": "none", "legendX": 1450, "legendY": 1144, "columns": 2, "gridAlign": "each", "columnPadding": 72.5, "rowPadding": 49.5, "padding": 23, "symbolType": "M-1.025,0M0.25,0H6.3", "symbolSize": 1600, "labelOffset": 116, "labelExpr": "indexof(datum.label, 'Fit') === 0 ? datum.label + '\u00a0\u00a0\u00a0\u00a0\u00a0\u00a0\u00a0\u00a0\u00a0\u00a0\u200b' : datum.label"}},
        "strokeWidth": {"field": "series", "type": "nominal",
          "scale": {"type": "ordinal", "domain": ["Sample 532", "Sample 533", "Sample 534", "Fit 532", "Fit 533", "Fit 534"], "range": [5, 5, 5, 2.2, 2.2, 2.2]},
          "legend": {"title": null, "orient": "none", "legendX": 1450, "legendY": 1144, "columns": 2, "gridAlign": "each", "columnPadding": 72.5, "rowPadding": 49.5, "padding": 23, "symbolType": "M-1.025,0M0.25,0H6.3", "symbolSize": 1600, "labelOffset": 116, "labelExpr": "indexof(datum.label, 'Fit') === 0 ? datum.label + '\u00a0\u00a0\u00a0\u00a0\u00a0\u00a0\u00a0\u00a0\u00a0\u00a0\u200b' : datum.label"}},
        "order": {"value": null}
      }
    }
  ],
  "config": {
    "font": "Liberation Sans",
    "view": {"stroke": null},
    "axis": {"labelFont": "Liberation Sans", "labelFontSize": 45, "labelColor": "black", "titleFont": "Liberation Sans", "titleFontSize": 73, "titleFontWeight": "normal", "titleColor": "black", "domainColor": "#a6a6a6", "domainWidth": 2, "tickColor": "#a6a6a6", "tickWidth": 2, "tickSize": 13, "gridColor": "#a6a6a6", "gridWidth": 2, "labelFlush": false, "labelOverlap": false},
    "legend": {"strokeColor": "#333333", "strokeWidth": 2.5, "labelFont": "Liberation Sans", "labelFontSize": 46, "labelColor": "black", "labelLimit": 3000, "symbolStrokeWidth": 5}
  }
}
